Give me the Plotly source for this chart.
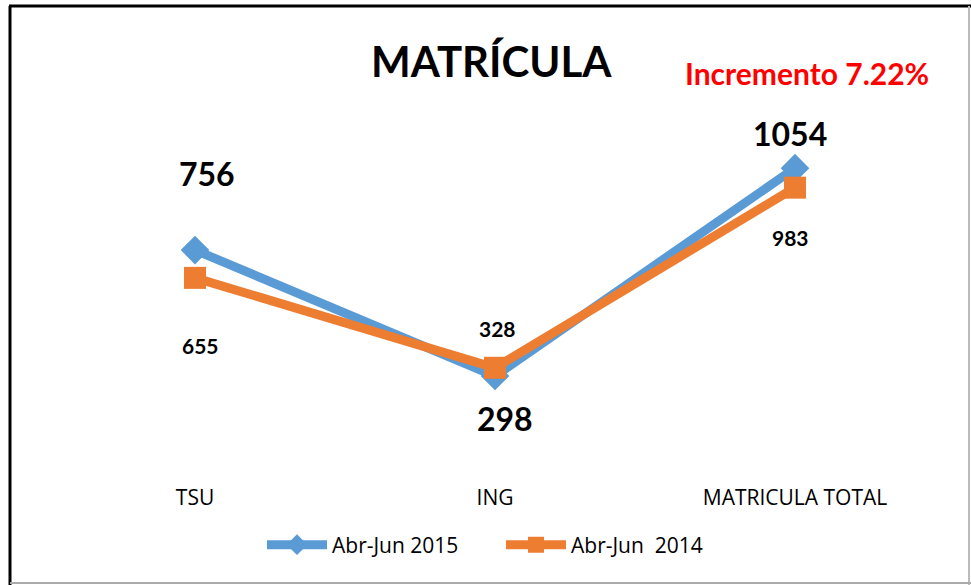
import plotly.graph_objects as go

# data
categories = ["TSU", "ING", "MATRICULA TOTAL"]
series_2015 = [756, 298, 1054]
series_2014 = [655, 328, 983]
name_2015 = "Abr-Jun 2015"
name_2014 = "Abr-Jun  2014"
increment_text = "Incremento 7.22%"

BLUE = "#5B9BD5"
ORANGE = "#ED7D31"
FONT = "Lato, 'Open Sans', sans-serif"
TEXT_FONT = "'Open Sans', Lato, sans-serif"

W, H = 971, 585
M = dict(l=45, r=26, t=128, b=127)
PW = W - M["l"] - M["r"]
PH = H - M["t"] - M["b"]


def px(x):
    return (x - M["l"]) / PW


def py(y):
    return 1 - (y - M["t"]) / PH


fig = go.Figure()
fig.add_trace(go.Scatter(
    x=categories, y=series_2015, name=name_2015, mode="lines+markers",
    line=dict(color=BLUE, width=9),
    marker=dict(symbol="diamond", size=22, color=BLUE),
))
fig.add_trace(go.Scatter(
    x=categories, y=series_2014, name=name_2014, mode="lines+markers",
    line=dict(color=ORANGE, width=9),
    marker=dict(symbol="square", size=22, color=ORANGE),
))

# data labels: 2015 big and bold, 2014 small
big_offsets = [(12, 77), (10, -42), (-5, 35)]
small_offsets = [(5, -68), (2, 39), (-5, -50)]
for cat, val, (dx, dy) in zip(categories, series_2015, big_offsets):
    fig.add_annotation(x=cat, y=val, text=f"<b>{val}</b>", showarrow=False,
                       xshift=dx, yshift=dy,
                       font=dict(family=FONT, size=32, color="black"))
for cat, val, (dx, dy) in zip(categories, series_2014, small_offsets):
    fig.add_annotation(x=cat, y=val, text=f"<b>{val}</b>", showarrow=False,
                       xshift=dx, yshift=dy,
                       font=dict(family=FONT, size=21, color="black"))

fig.add_annotation(xref="paper", yref="paper", x=px(491), y=py(61),
                   xanchor="center", yanchor="middle",
                   text="<b>MATRÍCULA</b>", showarrow=False,
                   font=dict(family=FONT, size=42, color="black"))
fig.add_annotation(xref="paper", yref="paper", x=px(807), y=py(73),
                   xanchor="center", yanchor="middle",
                   text=f"<b>{increment_text}</b>", showarrow=False,
                   font=dict(family=FONT, size=30, color="#FF0000"))

# chart border
fig.add_shape(type="line", xref="paper", yref="paper", x0=px(9), x1=px(971),
              y0=py(6), y1=py(6), line=dict(color="black", width=3))
fig.add_shape(type="line", xref="paper", yref="paper", x0=px(10), x1=px(10),
              y0=py(6), y1=py(585), line=dict(color="black", width=3))
fig.add_shape(type="line", xref="paper", yref="paper", x0=px(969), x1=px(969),
              y0=py(6), y1=py(585), line=dict(color="#BBBBBB", width=2))
fig.add_shape(type="line", xref="paper", yref="paper", x0=px(10), x1=px(971),
              y0=py(583), y1=py(583), line=dict(color="#AAAAAA", width=2))

fig.update_layout(
    width=W, height=H, margin=M,
    paper_bgcolor="white", plot_bgcolor="white",
    font=dict(family=FONT, color="black"),
    showlegend=True,
    legend=dict(orientation="h", x=px(262), xanchor="left", y=py(545),
                yanchor="middle", font=dict(family=TEXT_FONT, size=21, color="black"),
                itemwidth=60, entrywidth=164, entrywidthmode="pixels",
                tracegroupgap=0),
    xaxis=dict(showgrid=False, showline=False, zeroline=False, ticks="",
               range=[-0.5, 2.5], ticklabelstandoff=25,
               tickfont=dict(family=TEXT_FONT, size=21, color="black")),
    yaxis=dict(visible=False, range=[0, 1200]),
)

fig.write_html("out.html", config={"displayModeBar": False},
               post_script="document.body.style.margin='0px';")
